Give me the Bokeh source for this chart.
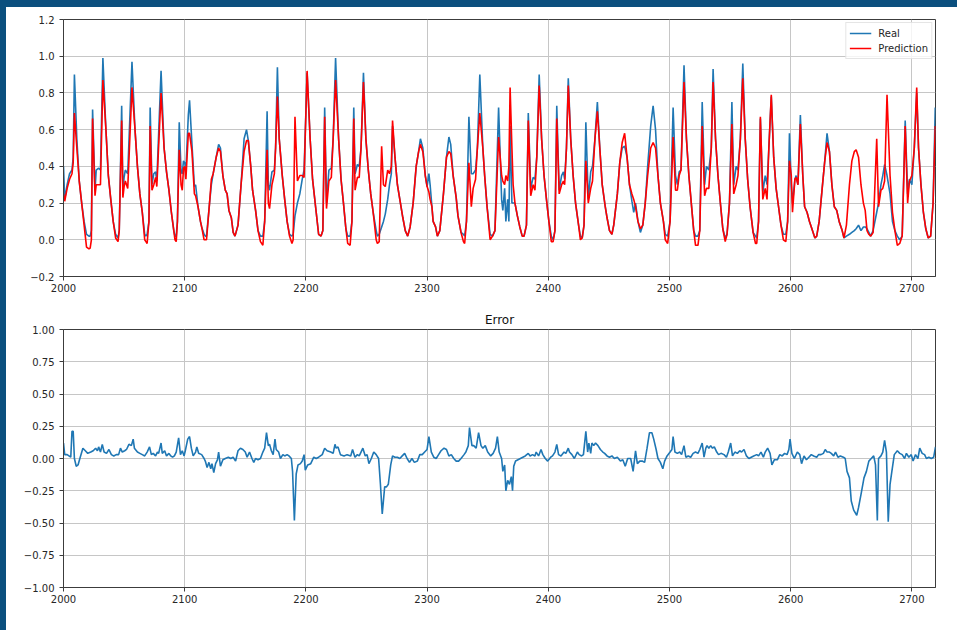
from bokeh.plotting import figure
from bokeh.layouts import column
from bokeh.models import (ColumnDataSource, Range1d, FixedTicker, Legend, LegendItem,
                          GlobalInlineStyleSheet)
from bokeh.embed import file_html
from bokeh.resources import INLINE

# ---------------- data ----------------
steps = [
    2000, 2001, 2003, 2005, 2007, 2008, 2009, 2011, 2013, 2015,
    2017, 2019, 2021, 2022, 2023, 2024, 2026, 2027, 2029, 2030.5,
    2032.5, 2035, 2037, 2039, 2041, 2043, 2045, 2046, 2048, 2049,
    2050, 2051, 2053, 2056.5, 2059, 2061, 2063, 2065, 2067, 2068,
    2069, 2070.5, 2071.5, 2073, 2074.5, 2076, 2077, 2080.5, 2083, 2085,
    2087, 2089, 2091, 2092, 2093, 2094, 2095.5, 2097, 2098, 2099,
    2100, 2101, 2103, 2104, 2106, 2108, 2109, 2111, 2113, 2114,
    2116, 2117, 2118, 2120.5, 2122, 2123.5, 2126, 2128, 2129.5, 2131.5,
    2133.5, 2135, 2136.5, 2138.5, 2140, 2141.5, 2144, 2146.5, 2149, 2151,
    2152.5, 2154.5, 2156, 2158.5, 2160.5, 2162.5, 2164.5, 2166, 2168, 2169,
    2170, 2172, 2174, 2175, 2176.5, 2178, 2180.5, 2182.5, 2184.5, 2186.5,
    2188.5, 2189.5, 2191, 2193, 2195, 2197, 2198.5, 2201, 2203.5, 2205.5,
    2208.5, 2210.5, 2212.5, 2214, 2215.5, 2217, 2219, 2221, 2222.5, 2224.5,
    2227, 2229, 2231, 2233, 2234.5, 2236.5, 2238, 2239.5, 2240.6, 2242.5,
    2244, 2245.5, 2247.5, 2249.5, 2251.5, 2253.5, 2255.5, 2258, 2259, 2260.5,
    2262.5, 2264, 2265.5, 2267.5, 2269, 2270.5, 2271.5, 2273.5, 2275.5, 2277.5,
    2280, 2282, 2284, 2286, 2288.5, 2291, 2293, 2294.5, 2296.5, 2298.5,
    2300, 2301.5, 2302.5, 2304, 2305, 2307, 2308.5, 2310.5, 2313.5, 2316,
    2318, 2319.5, 2321.5, 2324, 2325.5, 2328, 2330, 2331, 2332.5, 2334.5,
    2336.5, 2338, 2340, 2341.5, 2343.5, 2346, 2347.5, 2349.5, 2352, 2354,
    2356, 2359, 2361.5, 2362.5, 2364, 2365, 2366.5, 2367.5, 2368.5, 2370,
    2371, 2372.5, 2374.5, 2376.5, 2378.5, 2380, 2382, 2383.5, 2385.5, 2387.5,
    2389, 2390.5, 2392.5, 2394.5, 2396.5, 2398.5, 2400.5, 2402.5, 2404, 2405.5,
    2407, 2409, 2411, 2412.5, 2413.5, 2415, 2416.5, 2418.5, 2420.5, 2422.5,
    2425, 2426.5, 2428, 2429.5, 2431, 2433, 2435, 2436.5, 2438.5, 2440.5,
    2442.5, 2444.5, 2447, 2448.5, 2450.5, 2452.5, 2454, 2457, 2459, 2461,
    2463, 2465, 2467, 2469, 2470.5, 2472, 2474, 2476, 2478, 2480,
    2482, 2484.5, 2486.5, 2488.5, 2490.5, 2492.5, 2495, 2496.5, 2498.5, 2500.5,
    2503, 2505, 2506.5, 2508, 2509.5, 2512, 2514, 2516, 2518, 2520,
    2521.5, 2523.5, 2525, 2527, 2529, 2530.5, 2532.5, 2534.5, 2536, 2538,
    2540, 2542, 2544, 2546, 2547.5, 2549.5, 2551.5, 2553, 2555, 2556.5,
    2558.5, 2560.5, 2562.5, 2564.5, 2566.5, 2569, 2571, 2572, 2573.5, 2575,
    2577, 2579, 2580.5, 2582, 2584, 2586, 2588, 2590, 2592, 2594,
    2596, 2597.5, 2599, 2600.5, 2601.5, 2603.5, 2604.5, 2606, 2608, 2610,
    2611.5, 2613.5, 2615.5, 2617.5, 2620, 2621.5, 2623.5, 2626, 2628, 2630,
    2632, 2634, 2636, 2638, 2640, 2642.5, 2644, 2646, 2648.5, 2650.5,
    2652.5, 2654, 2656, 2658, 2660, 2661.5, 2663, 2664.5, 2666, 2668,
    2671, 2672.5, 2674.5, 2676, 2677.5, 2679.5, 2682, 2684, 2686, 2688,
    2690, 2692, 2694.5, 2696.5, 2698, 2700, 2702, 2704, 2705.5, 2707.5,
    2709.5, 2711.5, 2713.5, 2715.5, 2717.5, 2719.3,
]

real = [
    0.40, 0.22, 0.30, 0.36, 0.38, 0.45, 0.90, 0.55, 0.32, 0.20,
    0.10, 0.03, 0.02, 0.02, 0.05, 0.71, 0.27, 0.38, 0.39, 0.38,
    0.99, 0.60, 0.35, 0.22, 0.10, 0.03, 0.01, 0.05, 0.73, 0.27,
    0.34, 0.38, 0.36, 0.97, 0.60, 0.40, 0.25, 0.15, 0.03, 0.02,
    0.03, 0.10, 0.72, 0.30, 0.36, 0.37, 0.32, 0.92, 0.50, 0.37,
    0.27, 0.15, 0.05, 0.02, 0.02, 0.10, 0.64, 0.37, 0.36, 0.43,
    0.42, 0.38, 0.68, 0.76, 0.52, 0.29, 0.30, 0.18, 0.10, 0.07,
    0.03, 0.02, 0.02, 0.20, 0.30, 0.36, 0.45, 0.52, 0.50, 0.35,
    0.27, 0.25, 0.16, 0.12, 0.04, 0.02, 0.08, 0.30, 0.55, 0.60,
    0.54, 0.40, 0.27, 0.16, 0.05, 0.02, 0.02, 0.10, 0.70, 0.30,
    0.27, 0.37, 0.38, 0.50, 0.94, 0.55, 0.35, 0.22, 0.10, 0.03,
    0.02, 0.03, 0.13, 0.20, 0.25, 0.33, 0.38, 0.91, 0.55, 0.33,
    0.15, 0.03, 0.02, 0.05, 0.72, 0.20, 0.38, 0.39, 0.55, 0.99,
    0.55, 0.33, 0.20, 0.06, 0.02, 0.02, 0.10, 0.72, 0.36, 0.41,
    0.40, 0.50, 0.91, 0.55, 0.38, 0.25, 0.15, 0.05, 0.02, 0.03,
    0.07, 0.10, 0.14, 0.22, 0.30, 0.36, 0.62, 0.45, 0.30, 0.22,
    0.12, 0.05, 0.02, 0.07, 0.20, 0.40, 0.48, 0.55, 0.50, 0.35,
    0.29, 0.36, 0.30, 0.18, 0.10, 0.07, 0.02, 0.05, 0.25, 0.45,
    0.56, 0.52, 0.35, 0.23, 0.13, 0.04, 0.03, 0.02, 0.10, 0.67,
    0.36, 0.36, 0.38, 0.50, 0.90, 0.50, 0.35, 0.18, 0.03, 0.02,
    0.05, 0.72, 0.22, 0.16, 0.28, 0.10, 0.22, 0.10, 0.62, 0.20,
    0.20, 0.20, 0.13, 0.07, 0.02, 0.02, 0.08, 0.69, 0.28, 0.34,
    0.33, 0.45, 0.90, 0.55, 0.35, 0.22, 0.10, 0.02, 0.00, 0.05,
    0.73, 0.27, 0.35, 0.37, 0.33, 0.50, 0.88, 0.55, 0.35, 0.20,
    0.08, 0.02, 0.01, 0.08, 0.64, 0.22, 0.37, 0.40, 0.55, 0.75,
    0.50, 0.30, 0.18, 0.12, 0.05, 0.03, 0.08, 0.25, 0.42, 0.50,
    0.51, 0.45, 0.30, 0.21, 0.15, 0.20, 0.10, 0.04, 0.08, 0.20,
    0.40, 0.62, 0.73, 0.60, 0.35, 0.20, 0.10, 0.03, 0.02, 0.10,
    0.72, 0.35, 0.30, 0.37, 0.38, 0.95, 0.55, 0.35, 0.20, 0.05,
    0.02, 0.02, 0.05, 0.75, 0.30, 0.40, 0.38, 0.50, 0.93, 0.55,
    0.35, 0.20, 0.06, 0.01, 0.03, 0.20, 0.75, 0.30, 0.40, 0.38,
    0.55, 0.96, 0.55, 0.33, 0.18, 0.04, 0.02, 0.01, 0.10, 0.66,
    0.26, 0.35, 0.30, 0.50, 0.78, 0.45, 0.28, 0.18, 0.08, 0.03,
    0.03, 0.10, 0.58, 0.30, 0.20, 0.33, 0.35, 0.30, 0.68, 0.35,
    0.18, 0.15, 0.10, 0.06, 0.01, 0.02, 0.10, 0.28, 0.42, 0.58,
    0.48, 0.30, 0.18, 0.16, 0.10, 0.05, 0.01, 0.02, 0.03, 0.04,
    0.05, 0.06, 0.08, 0.05, 0.07, 0.07, 0.06, 0.04, 0.02, 0.05,
    0.15, 0.20, 0.30, 0.35, 0.41, 0.35, 0.25, 0.10, 0.05, 0.02,
    0.00, 0.02, 0.65, 0.25, 0.33, 0.30, 0.50, 0.80, 0.50, 0.30,
    0.15, 0.06, 0.01, 0.02, 0.20, 0.72,
]

pred = [
    0.25, 0.21, 0.28, 0.33, 0.36, 0.42, 0.69, 0.50, 0.32, 0.20,
    0.08, -0.04, -0.05, -0.045, 0.00, 0.66, 0.24, 0.30, 0.30, 0.30,
    0.87, 0.60, 0.35, 0.22, 0.10, 0.01, -0.01, 0.05, 0.65, 0.23,
    0.29, 0.32, 0.28, 0.83, 0.60, 0.40, 0.25, 0.15, 0.00, -0.01,
    -0.02, 0.10, 0.62, 0.27, 0.30, 0.34, 0.29, 0.80, 0.50, 0.37,
    0.27, 0.15, 0.05, 0.00, -0.01, 0.10, 0.49, 0.30, 0.27, 0.39,
    0.40, 0.33, 0.58, 0.58, 0.48, 0.25, 0.24, 0.18, 0.10, 0.07,
    0.00, 0.00, 0.00, 0.20, 0.33, 0.36, 0.45, 0.50, 0.48, 0.35,
    0.27, 0.25, 0.16, 0.12, 0.04, 0.02, 0.08, 0.30, 0.48, 0.54,
    0.54, 0.40, 0.27, 0.16, 0.05, -0.01, -0.03, 0.10, 0.49, 0.20,
    0.17, 0.30, 0.36, 0.50, 0.78, 0.55, 0.35, 0.22, 0.10, 0.02,
    -0.02, 0.00, 0.67, 0.32, 0.35, 0.35, 0.34, 0.92, 0.55, 0.33,
    0.15, 0.03, 0.02, 0.05, 0.67, 0.17, 0.32, 0.34, 0.55, 0.87,
    0.55, 0.33, 0.20, 0.06, -0.02, -0.03, 0.10, 0.66, 0.27, 0.34,
    0.34, 0.50, 0.86, 0.55, 0.38, 0.25, 0.15, 0.00, -0.02, -0.01,
    0.51, 0.30, 0.29, 0.38, 0.36, 0.40, 0.65, 0.45, 0.30, 0.22,
    0.12, 0.05, 0.02, 0.07, 0.20, 0.40, 0.48, 0.52, 0.48, 0.35,
    0.29, 0.26, 0.22, 0.18, 0.10, 0.07, 0.02, 0.05, 0.25, 0.45,
    0.48, 0.47, 0.35, 0.23, 0.13, 0.04, -0.01, -0.02, 0.10, 0.42,
    0.18, 0.28, 0.33, 0.50, 0.69, 0.50, 0.35, 0.18, 0.00, 0.02,
    0.05, 0.56, 0.35, 0.32, 0.30, 0.35, 0.32, 0.40, 0.83, 0.50,
    0.30, 0.20, 0.13, 0.07, 0.02, 0.02, 0.08, 0.65, 0.24, 0.30,
    0.27, 0.45, 0.84, 0.55, 0.35, 0.22, 0.10, -0.01, -0.01, 0.05,
    0.66, 0.25, 0.30, 0.32, 0.30, 0.50, 0.84, 0.55, 0.35, 0.20,
    0.08, 0.00, 0.01, 0.08, 0.43, 0.20, 0.28, 0.32, 0.55, 0.70,
    0.50, 0.30, 0.18, 0.12, 0.05, 0.03, 0.08, 0.25, 0.42, 0.53,
    0.58, 0.45, 0.30, 0.25, 0.22, 0.18, 0.10, 0.06, 0.08, 0.20,
    0.35, 0.50, 0.53, 0.50, 0.35, 0.20, 0.10, 0.00, -0.02, 0.10,
    0.56, 0.27, 0.27, 0.35, 0.38, 0.86, 0.55, 0.35, 0.20, 0.05,
    -0.03, -0.03, 0.05, 0.62, 0.24, 0.28, 0.28, 0.50, 0.86, 0.55,
    0.35, 0.20, 0.06, -0.01, 0.03, 0.20, 0.63, 0.25, 0.30, 0.35,
    0.55, 0.88, 0.55, 0.33, 0.18, 0.04, -0.02, -0.02, 0.10, 0.67,
    0.22, 0.28, 0.22, 0.50, 0.79, 0.45, 0.28, 0.18, 0.08, 0.00,
    -0.01, 0.10, 0.43, 0.35, 0.15, 0.33, 0.34, 0.30, 0.63, 0.35,
    0.18, 0.15, 0.10, 0.06, 0.01, 0.02, 0.10, 0.28, 0.42, 0.53,
    0.48, 0.30, 0.18, 0.16, 0.10, 0.05, 0.01, 0.08, 0.30, 0.43,
    0.48, 0.49, 0.45, 0.30, 0.20, 0.16, 0.05, 0.03, 0.02, 0.04,
    0.55, 0.18, 0.27, 0.28, 0.32, 0.79, 0.35, 0.15, 0.05, -0.03,
    -0.02, 0.02, 0.62, 0.20, 0.32, 0.35, 0.50, 0.83, 0.50, 0.30,
    0.15, 0.06, 0.01, 0.02, 0.20, 0.62,
]

err_steps = [
    2000, 2001, 2003, 2004.5, 2006, 2007, 2008, 2009, 2010.5, 2012,
    2013.5, 2016, 2018, 2020, 2022.5, 2024.5, 2026.5, 2028, 2029, 2030.5,
    2032, 2033.5, 2035.5, 2037.5, 2039.5, 2041.5, 2043.5, 2045.5, 2047, 2048.5,
    2050.5, 2052, 2054, 2056, 2057.5, 2058.5, 2061, 2063, 2065, 2067,
    2069, 2071, 2072.5, 2074, 2076, 2077.5, 2078.5, 2080.5, 2081.5, 2083.5,
    2085, 2087, 2088.5, 2090, 2091.5, 2093, 2095, 2096.5, 2098, 2099.5,
    2100.5, 2102.5, 2104, 2105.5, 2107, 2109, 2110, 2111.5, 2114, 2116,
    2117, 2118.5, 2120, 2121.5, 2122.5, 2124, 2125.5, 2127, 2128, 2129.5,
    2131.5, 2133.5, 2136, 2138, 2140, 2142, 2144, 2146, 2148, 2150,
    2151.5, 2153.5, 2155.5, 2157, 2158.5, 2160.5, 2162.5, 2164.5, 2166, 2167.5,
    2169, 2170, 2171.5, 2173, 2174.5, 2175.5, 2177.5, 2179, 2181, 2182.5,
    2184.5, 2186, 2188, 2189, 2190.5, 2192, 2193.5, 2195.5, 2197, 2198.5,
    2199.5, 2201.5, 2204, 2206.5, 2208.5, 2210.5, 2213.5, 2215.5, 2217.5, 2220.5,
    2222.5, 2224, 2225, 2226.5, 2228.5, 2231.5, 2234, 2237, 2238.5, 2240.5,
    2242.5, 2244, 2245.5, 2247, 2249, 2250.5, 2252, 2254, 2256, 2258,
    2260, 2261.5, 2263, 2265, 2266.5, 2268, 2270, 2271.5, 2273.5, 2275.5,
    2277.5, 2279.5, 2281.5, 2283.5, 2285.5, 2287.5, 2289.5, 2292, 2294, 2296,
    2298, 2300, 2301.5, 2303.5, 2305.5, 2307.5, 2309.5, 2311.5, 2314, 2316,
    2318, 2320, 2322, 2324, 2326, 2328, 2330.5, 2332, 2334, 2335,
    2337, 2338.5, 2340.5, 2342.5, 2344.5, 2346, 2348, 2350, 2352.5, 2354.5,
    2356.5, 2358, 2359.5, 2361.5, 2362.5, 2364, 2365, 2366.5, 2368, 2369.5,
    2370.5, 2371.5, 2373, 2375, 2377, 2379, 2381, 2383.5, 2385, 2387,
    2389, 2390, 2392, 2394, 2395.5, 2397.5, 2399.5, 2402, 2403.5, 2405.5,
    2407, 2408.5, 2410.5, 2413, 2414.5, 2416.5, 2417.5, 2419.5, 2421.5, 2424,
    2425.5, 2427.5, 2429, 2431, 2432.5, 2433.5, 2435, 2436, 2437.5, 2439,
    2441, 2443, 2445, 2446.5, 2448.5, 2450.5, 2452.5, 2454.5, 2457, 2459.5,
    2461.5, 2463.5, 2465.5, 2468, 2470, 2472, 2473.5, 2475.5, 2477.5, 2479.5,
    2481.5, 2483.5, 2485.5, 2487, 2489, 2490.5, 2492.5, 2494.5, 2496, 2498,
    2500.5, 2502, 2503, 2504.5, 2506.5, 2508.5, 2510, 2512, 2513.5, 2515.5,
    2517.5, 2519.5, 2521.5, 2523.5, 2525, 2527, 2528.5, 2530, 2531, 2532.5,
    2534, 2535.5, 2537, 2539, 2540.5, 2542.5, 2545, 2547, 2548.5, 2550.5,
    2552, 2554, 2556, 2558, 2559.5, 2561.5, 2563.5, 2565.5, 2567.5, 2569.5,
    2572, 2573.5, 2575.5, 2577.5, 2579, 2581, 2583, 2584.5, 2586.5, 2589,
    2591, 2593, 2595, 2597, 2598.5, 2599.5, 2601, 2603, 2605.5, 2607.5,
    2609, 2611, 2613, 2615, 2617, 2619, 2621.5, 2623, 2625, 2627,
    2628.5, 2630, 2632, 2633.5, 2635.5, 2637, 2639, 2641, 2643.5, 2645,
    2646.5, 2648.5, 2650, 2652, 2654.5, 2656, 2658, 2660.5, 2662.5, 2664.5,
    2666.5, 2668.5, 2670, 2671.5, 2672.5, 2674.5, 2676, 2677.5, 2679, 2680.5,
    2682, 2683.5, 2685.5, 2688, 2690, 2692, 2694, 2695.5, 2697.5, 2699.5,
    2701, 2703, 2705, 2706.5, 2708.5, 2710.5, 2712, 2714, 2716, 2718, 2719.5,
]

err = [
    0.12, 0.03, 0.03, 0.02, 0.01, 0.21, 0.21, 0.00, -0.06, -0.05,
    0.00, 0.08, 0.06, 0.04, 0.05, 0.06, 0.08, 0.06, 0.09, 0.05,
    0.11, 0.05, 0.04, 0.07, 0.03, 0.02, 0.03, 0.03, 0.08, 0.05,
    0.06, 0.07, 0.11, 0.10, 0.15, 0.08, 0.05, 0.04, 0.03, 0.02,
    0.05, 0.09, 0.03, 0.04, 0.02, 0.05, 0.04, 0.12, 0.04, 0.06,
    0.02, 0.04, 0.02, 0.01, 0.02, 0.05, 0.16, 0.03, 0.06, 0.02,
    0.06, 0.15, 0.17, 0.08, 0.02, 0.05, 0.09, 0.04, 0.03, 0.00,
    -0.02, -0.07, -0.03, -0.08, -0.04, -0.11, -0.04, -0.01, 0.05, -0.06,
    -0.01, 0.00, 0.01, 0.00, 0.01, -0.02, 0.06, 0.08, 0.07, 0.05,
    0.01, 0.05, 0.00, -0.03, 0.00, -0.01, 0.00, 0.05, 0.08, 0.20,
    0.10, 0.11, 0.06, 0.03, 0.15, 0.07, 0.05, 0.00, 0.03, 0.02,
    0.03, 0.02, 0.00, -0.10, -0.48, -0.12, -0.05, -0.04, -0.02, 0.03,
    -0.09, -0.05, -0.04, 0.01, 0.00, 0.01, 0.03, 0.08, 0.06, 0.05,
    0.04, 0.11, 0.08, 0.09, 0.03, 0.02, 0.03, 0.02, 0.07, 0.01,
    0.03, 0.02, 0.05, 0.08, 0.02, 0.03, -0.04, 0.00, 0.05, 0.03,
    0.00, -0.20, -0.43, -0.22, -0.22, -0.20, -0.05, 0.02, 0.01, 0.01,
    0.00, 0.02, 0.04, 0.00, -0.03, 0.00, -0.03, -0.02, 0.03, 0.03,
    0.05, 0.07, 0.17, 0.05, 0.01, 0.00, 0.03, 0.06, 0.08, 0.07,
    0.02, 0.03, 0.00, -0.02, -0.02, 0.00, 0.03, 0.05, 0.10, 0.24,
    0.10, 0.10, 0.08, 0.20, 0.10, 0.08, 0.10, 0.05, 0.02, 0.04,
    0.08, 0.17, 0.05, 0.00, -0.10, -0.05, -0.25, -0.17, -0.20, -0.14,
    -0.25, -0.06, -0.02, -0.01, 0.00, 0.01, 0.02, 0.04, 0.02, 0.03,
    0.02, 0.05, 0.02, 0.07, 0.03, 0.00, -0.02, 0.01, 0.02, 0.05,
    0.11, 0.03, 0.02, 0.05, 0.04, 0.08, 0.05, 0.03, 0.00, 0.05,
    0.03, 0.02, 0.03, 0.21, 0.05, 0.12, 0.04, 0.12, 0.10, 0.12,
    0.10, 0.07, 0.05, 0.04, 0.02, 0.01, 0.02, 0.00, 0.01, -0.02,
    -0.01, -0.06, 0.00, 0.00, -0.10, 0.06, -0.04, -0.02, -0.02, -0.03,
    0.08, 0.20, 0.20, 0.15, 0.07, 0.00, -0.03, -0.08, -0.02, 0.02,
    0.05, 0.07, 0.17, 0.05, 0.04, 0.05, 0.03, 0.10, 0.01, 0.02,
    0.01, 0.04, 0.05, 0.04, 0.07, 0.12, 0.01, 0.08, 0.10, 0.08,
    0.10, 0.08, 0.09, 0.05, 0.03, 0.04, 0.03, 0.01, 0.05, 0.12,
    0.02, 0.05, 0.04, 0.06, 0.05, 0.07, 0.02, 0.00, 0.01, 0.02,
    0.03, 0.02, 0.05, 0.01, 0.05, 0.08, 0.04, -0.05, -0.01, -0.01,
    0.03, 0.02, 0.04, 0.03, 0.07, 0.15, 0.04, 0.00, 0.05, 0.03,
    -0.04, 0.02, -0.01, 0.01, 0.03, 0.02, 0.01, 0.03, 0.03, 0.04,
    0.07, 0.05, 0.05, 0.04, 0.02, 0.05, 0.01, 0.02, 0.01, 0.00,
    -0.10, -0.15, -0.33, -0.40, -0.44, -0.38, -0.28, -0.15, -0.10, -0.02,
    0.00, 0.02, -0.05, -0.48, 0.00, 0.02, 0.05, 0.14, 0.05, -0.49,
    -0.20, -0.10, 0.03, 0.06, 0.04, 0.03, 0.00, 0.04, 0.01, 0.03,
    -0.02, 0.03, 0.00, 0.08, 0.04, 0.03, 0.00, 0.01, 0.00, 0.01, 0.09,
]

x_ticks = [2000, 2100, 2200, 2300, 2400, 2500, 2600, 2700]
top_y_ticks = [-0.2, 0.0, 0.2, 0.4, 0.6, 0.8, 1.0, 1.2]
top_y_labels = ["\u22120.2", "0.0", "0.2", "0.4", "0.6", "0.8", "1.0", "1.2"]
err_y_ticks = [-1.0, -0.75, -0.5, -0.25, 0.0, 0.25, 0.5, 0.75, 1.0]
err_y_labels = ["\u22121.00", "\u22120.75", "\u22120.50", "\u22120.25", "0.00",
                "0.25", "0.50", "0.75", "1.00"]
series_names = ["Real", "Prediction"]
title_text = "Error"

assert len(steps) == len(real) == len(pred)
assert len(err_steps) == len(err)

# ---------------- styling ----------------
FONT = "DejaVu Sans"
BLUE = "#1f77b4"
RED = "#ff0000"
GRID = "#c6c6c6"
SPINE = "#3c3c3c"
TXT = "#262626"
FRAME_BLUE = "#0b4f7e"


def style(p, yticks, ylabels):
    p.xaxis.ticker = FixedTicker(ticks=x_ticks)
    p.yaxis.ticker = FixedTicker(ticks=yticks)
    p.yaxis.major_label_overrides = {t: l for t, l in zip(yticks, ylabels)}
    p.xaxis.major_label_overrides = {t: str(t) for t in x_ticks}
    for ax in (p.xaxis[0], p.yaxis[0]):
        ax.major_label_text_font = FONT
        ax.major_label_text_font_size = "10px"
        ax.major_label_text_color = TXT
        ax.axis_line_color = SPINE
        ax.axis_line_width = 1
        ax.major_tick_line_color = SPINE
        ax.major_tick_in = 0
        ax.major_tick_out = 4
        ax.minor_tick_line_color = None
    p.xaxis.major_label_standoff = 3
    p.yaxis.major_label_standoff = 5
    p.xgrid.grid_line_color = GRID
    p.ygrid.grid_line_color = GRID
    p.xgrid.grid_line_width = 1
    p.ygrid.grid_line_width = 1
    p.outline_line_color = SPINE
    p.outline_line_width = 1
    p.background_fill_color = "white"
    p.border_fill_color = "white"


W = 951
p1 = figure(width=W, height=293, output_backend="svg", toolbar_location=None,
            x_range=Range1d(2000, 2719.5), y_range=Range1d(-0.2, 1.2),
            min_border_left=57, min_border_right=22, min_border_top=12,
            min_border_bottom=24)
style(p1, top_y_ticks, top_y_labels)

src = ColumnDataSource(dict(t=steps, real=real, pred=pred))
r_real = p1.line("t", "real", source=src, line_color=BLUE, line_width=1.6)
r_pred = p1.line("t", "pred", source=src, line_color=RED, line_width=1.6)

legend = Legend(items=[LegendItem(label=series_names[0], renderers=[r_real]),
                       LegendItem(label=series_names[1], renderers=[r_pred])],
                location="top_right")
legend.margin = 3
legend.padding = 3
legend.spacing = 1
legend.label_height = 14
legend.glyph_height = 14
legend.glyph_width = 22
legend.label_standoff = 7
legend.label_text_font = FONT
legend.label_text_font_size = "10px"
legend.label_text_color = TXT
legend.border_line_color = "#cccccc"
legend.border_line_width = 1
legend.background_fill_color = "white"
legend.background_fill_alpha = 0.8
p1.add_layout(legend)

p2 = figure(width=W, height=330, output_backend="svg", toolbar_location=None,
            x_range=Range1d(2000, 2719.5), y_range=Range1d(-1.0, 1.0),
            min_border_left=57, min_border_right=22, min_border_top=29,
            min_border_bottom=43, title=title_text)
style(p2, err_y_ticks, err_y_labels)
p2.title.align = "center"
p2.title.text_font = FONT
p2.title.text_font_size = "12px"
p2.title.text_font_style = "normal"
p2.title.text_color = "#111111"
p2.title.standoff = 6

esrc = ColumnDataSource(dict(t=err_steps, e=err))
p2.line("t", "e", source=esrc, line_color=BLUE, line_width=1.6)

sheet = GlobalInlineStyleSheet(css=(
    "html, body { overflow: hidden; background: white; }"
    "body { border-top: 7px solid %s; border-left: 6px solid %s; }" % (FRAME_BLUE, FRAME_BLUE)
))
layout = column(p1, p2, spacing=0, stylesheets=[sheet])

open("out.html", "w").write(file_html(layout, INLINE))
